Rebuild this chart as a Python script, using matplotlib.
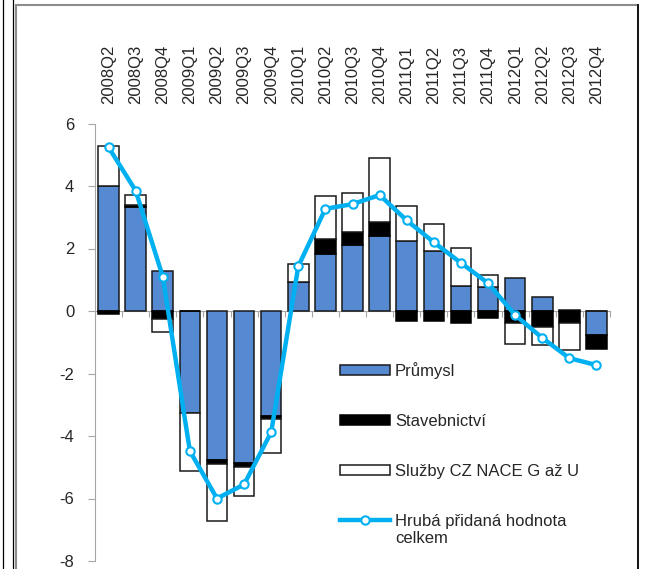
import numpy as np
import matplotlib
matplotlib.use("Agg")
from matplotlib import pyplot as plt
from matplotlib.patches import Rectangle
from matplotlib.lines import Line2D

quarters = ["2008Q2", "2008Q3", "2008Q4",
            "2009Q1", "2009Q2", "2009Q3", "2009Q4",
            "2010Q1", "2010Q2", "2010Q3", "2010Q4",
            "2011Q1", "2011Q2", "2011Q3", "2011Q4",
            "2012Q1", "2012Q2", "2012Q3", "2012Q4"]

prumysl = [4.00, 3.33, 1.27, -3.27, -4.78, -4.87, -3.35, 0.94, 1.83, 2.10,
           2.39, 2.24, 1.91, 0.81, 0.78, 1.05, 0.44, 0.02, -0.77]
stavebnictvi = [-0.08, 0.06, -0.26, 0.00, -0.10, -0.11, -0.12, 0.00, 0.47, 0.44,
                0.47, -0.33, -0.33, -0.38, -0.22, -0.38, -0.50, -0.37, -0.43]
sluzby = [1.28, 0.33, -0.40, -1.84, -1.85, -0.94, -1.07, 0.58, 1.38, 1.25,
          2.04, 1.11, 0.86, 1.20, 0.37, -0.68, -0.59, -0.87, 0.00]
hph = [5.24, 3.85, 1.10, -4.48, -6.00, -5.55, -3.88, 1.43, 3.27, 3.42,
       3.71, 2.90, 2.20, 1.54, 0.89, -0.13, -0.86, -1.51, -1.73]

labels = ["Průmysl", "Stavebnictví", "Služby CZ NACE G až U",
          "Hrubá přidaná hodnota\ncelkem"]

plt.rcParams['font.family'] = ['Liberation Sans', 'DejaVu Sans']
plt.rcParams['axes.unicode_minus'] = False

BLUE = "#5589D2"
CYAN = "#00B0F0"
GREY = "#A6A6A6"
TXT = "#262626"

fig = plt.figure(figsize=(6.48, 5.69), dpi=100)

# outer frame of the chart object
fig.add_artist(Rectangle((16 / 648, -0.01), 622 / 648, 1 - 5 / 569 + 0.01,
                         transform=fig.transFigure, fill=False,
                         edgecolor="#8C8C8C", lw=1.5))
fig.add_artist(Line2D([638 / 648, 638 / 648], [0, 1 - 5 / 569],
                      transform=fig.transFigure, color="black", lw=1.2))
for xp in (3, 13):
    fig.add_artist(Line2D([xp / 648, xp / 648], [0, 1],
                          transform=fig.transFigure, color="black", lw=0.9))

ax = fig.add_axes([95 / 648, 8 / 569, 515 / 648, 437.5 / 569])

x = np.arange(len(quarters))
width = 0.76
pos_base = np.zeros(len(x))
neg_base = np.zeros(len(x))
styles = [dict(color=BLUE, edgecolor="#1a1a1a"),
          dict(color="black", edgecolor="black"),
          dict(color="white", edgecolor="#1a1a1a")]
handles = []
for vals, st, lab in zip([prumysl, stavebnictvi, sluzby], styles, labels[:3]):
    v = np.array(vals)
    bottom = np.where(v >= 0, pos_base, neg_base)
    b = ax.bar(x, v, width, bottom=bottom, linewidth=1.1, label=lab,
               zorder=2, **st)
    handles.append(b)
    pos_base += np.where(v > 0, v, 0)
    neg_base += np.where(v < 0, v, 0)

ln, = ax.plot(x, hph, color=CYAN, lw=3.2, marker="o", markersize=6,
              markerfacecolor="white", markeredgecolor=CYAN,
              markeredgewidth=1.5, label=labels[3], zorder=3)
handles.append(ln)

ax.set_xlim(-0.5, len(x) - 0.5)
ax.set_ylim(-8, 6)
ax.set_yticks(np.arange(-8, 7, 2))

for side in ("top", "right"):
    ax.spines[side].set_visible(False)
ax.spines["left"].set_color(GREY)
ax.spines["bottom"].set_position(("data", 0))
ax.spines["bottom"].set_color(GREY)
ax.spines["bottom"].set_zorder(1)

ax.set_xticks(np.arange(-0.5, len(x), 1))
ax.set_xticklabels([])
ax.tick_params(axis="x", direction="out", length=4, color=GREY)
ax.tick_params(axis="y", direction="out", length=5, color=GREY,
               labelsize=12, labelcolor=TXT, pad=10)

for xi, q in zip(x, quarters):
    ax.text(xi, 1.045, q, transform=ax.get_xaxis_transform(), rotation=90,
            ha="center", va="bottom", fontsize=12, color=TXT)

leg = ax.legend(handles, labels, loc="upper left",
                bbox_to_anchor=(0.463, 0.47), frameon=False,
                fontsize=12, handlelength=3.0, handleheight=0.55,
                handletextpad=0.3, labelspacing=2.1, borderaxespad=0)
for t in leg.get_texts():
    t.set_color(TXT)
# line handle sits level with the first line of its two-line label
for l in leg.get_lines():
    l.set_ydata(np.asarray(l.get_ydata()) + 7.5)

fig.savefig("out.png", dpi=100)
